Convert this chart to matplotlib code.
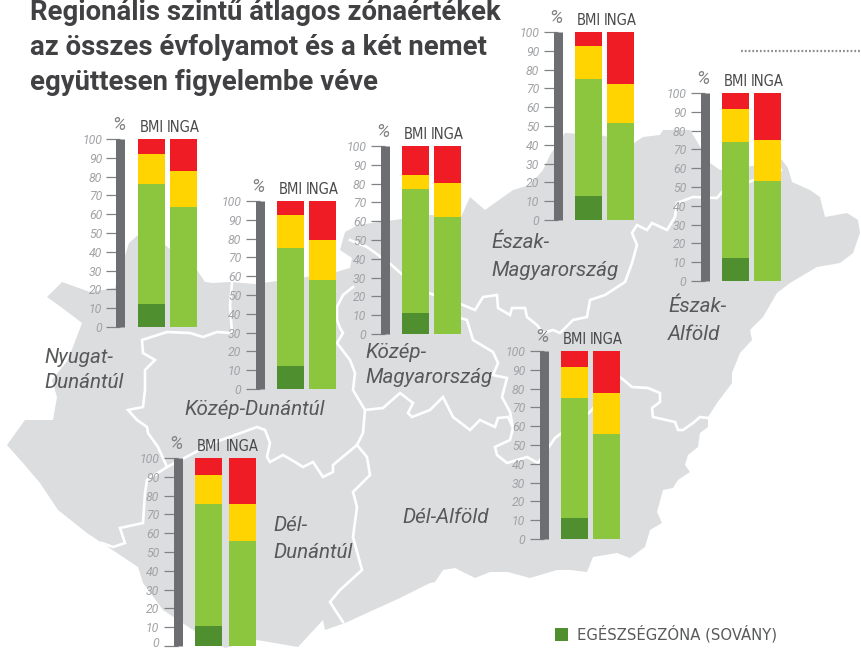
import matplotlib
matplotlib.use("Agg")
import matplotlib.pyplot as plt
from matplotlib.patches import Polygon, Rectangle
from matplotlib.transforms import ScaledTranslation

W, H = 861, 649
DPI = 100

# ---------- data ----------
regions = ["Nyugat-Dunántúl", "Közép-Dunántúl", "Közép-Magyarország", "Észak-Magyarország",
           "Észak-Alföld", "Dél-Alföld", "Dél-Dunántúl"]
# segments: dark green, green, yellow, red
bmi_dark = [12, 12, 11, 12.7, 12, 11, 10.5]
bmi_green = [64, 63, 66, 62.3, 62, 64, 65]
bmi_yellow = [16, 17.5, 7.6, 17.5, 17.5, 16.5, 15.5]
bmi_red = [8, 7.5, 15.4, 7.5, 8.5, 8.5, 9]
inga_dark = [0, 0, 0, 0, 0, 0, 0]
inga_green = [64, 58, 62, 51.6, 53, 56, 56]
inga_yellow = [19, 21, 18.5, 20.7, 22, 21.7, 19.5]
inga_red = [17, 21, 19.5, 27.7, 25, 22.3, 24.5]
group_labels = ["BMI", "INGA"]
tick_values = [0, 10, 20, 30, 40, 50, 60, 70, 80, 90, 100]
title_lines = ["Regionális szintű átlagos zónaértékek",
               "az összes évfolyamot és a két nemet",
               "együttesen figyelembe véve"]
legend_label = "EGÉSZSÉGZÓNA (SOVÁNY)"

# ---------- layout (pixels) ----------
axis_left = [116, 255, 380, 553, 700, 539, 173]
axis_bottom = [327, 389, 334, 220, 281, 539, 646]
inga_offset = [63, 63, 63, 63, 63, 63, 64.5]
region_text = [
    ("Nyugat-", 44, 363), ("Dunántúl", 44, 388),
    ("Közép-Dunántúl", 184, 415),
    ("Közép-", 365, 358), ("Magyarország", 365, 383),
    ("Észak-", 491, 248), ("Magyarország", 491, 276),
    ("Észak-", 668, 312), ("Alföld", 668, 340),
    ("Dél-Alföld", 402, 523),
    ("Dél-", 273, 531), ("Dunántúl", 273, 558),
]

# ---------- background map outline (pixels) ----------
map_outline = [
    (7, 445), (25, 420), (53, 420), (57, 397), (52, 380), (68, 360), (82, 323), (65, 310), (47, 297),
    (62, 282), (90, 292), (115, 288), (129, 243), (138, 235), (165, 245), (197, 270), (205, 282),
    (213, 283), (230, 282), (255, 284), (300, 278), (336, 272), (350, 268), (352, 258), (340, 250),
    (345, 232), (358, 225), (380, 222), (430, 215), (461, 217), (470, 197), (485, 210), (513, 190),
    (530, 185), (543, 170), (550, 155), (565, 133), (600, 135), (634, 143), (643, 137), (660, 135),
    (663, 130), (690, 130), (710, 163), (720, 170), (760, 165), (782, 160), (788, 168), (792, 182),
    (810, 190), (820, 197), (825, 217), (847, 213), (858, 220), (860, 233), (853, 253), (840, 263),
    (817, 267), (790, 283), (777, 293), (763, 317), (750, 330), (752, 340), (740, 353), (732, 373),
    (732, 383), (717, 403), (708, 417), (708, 427), (700, 433), (698, 447), (688, 455), (685, 465),
    (690, 472), (678, 480), (673, 488), (663, 490), (657, 512), (662, 523), (650, 530), (645, 547),
    (630, 558), (617, 553), (593, 557), (587, 572), (570, 570), (557, 570), (530, 578), (508, 572),
    (490, 572), (475, 578), (455, 568), (443, 570), (435, 582), (430, 583), (400, 598), (367, 613),
    (345, 623), (325, 630), (323, 620), (298, 647), (257, 640), (225, 648), (193, 630), (163, 610),
    (143, 583), (138, 567), (102, 543), (87, 533), (58, 510), (40, 483), (23, 463),
]
map_borders = [
    [(232, 283), (230, 305), (232, 333), (217, 332), (203, 337), (190, 333), (167, 332), (142, 340),
     (143, 353), (155, 360), (145, 370), (145, 390), (143, 407), (128, 410), (137, 420), (147, 427),
     (148, 433), (158, 447), (167, 467), (147, 480), (145, 493), (143, 523), (120, 528), (125, 543),
     (113, 547), (102, 543)],
    [(167, 467), (213, 443), (257, 427), (265, 430), (270, 443), (267, 457), (270, 462), (283, 455),
     (295, 462), (303, 467), (313, 462), (323, 477), (333, 472), (333, 465), (357, 445)],
    [(353, 287), (343, 295), (337, 307), (337, 320), (340, 328), (343, 333), (337, 343), (350, 360),
     (355, 373), (353, 390), (365, 410), (363, 433), (357, 445)],
    [(357, 445), (367, 457), (370, 475), (353, 492), (357, 507), (353, 537), (362, 570), (340, 590),
     (330, 602), (343, 622)],
    [(365, 410), (383, 408), (400, 393), (413, 403), (408, 413), (412, 417), (430, 410), (443, 397),
     (453, 417), (470, 430), (480, 420), (495, 427), (498, 418), (508, 417), (513, 428), (510, 440),
     (495, 447), (497, 455), (507, 463), (527, 457), (538, 463), (555, 438), (590, 412), (620, 377),
     (632, 387), (648, 388), (660, 393), (660, 402), (652, 408), (653, 417), (675, 422), (678, 430),
     (683, 430), (693, 423), (700, 417), (708, 418)],
    [(388, 262), (367, 247), (350, 240)],
    [(388, 262), (420, 290), (463, 305), (475, 310), (483, 297), (497, 295), (498, 308), (510, 315),
     (512, 308), (525, 308), (527, 317), (537, 325), (543, 333), (553, 330), (560, 333), (573, 320),
     (587, 317), (590, 300), (605, 295), (625, 282), (632, 263), (637, 245), (632, 233), (637, 225),
     (647, 230), (652, 223), (667, 230), (675, 217), (677, 203), (693, 197), (717, 198), (722, 192),
     (781, 170)],
    [(440, 312), (467, 320), (473, 340), (493, 352), (498, 363), (493, 375), (507, 378), (502, 397),
     (510, 412), (513, 428)],
]

# ---------- colours ----------
C_MAP = "#dcddde"
C_DARK = "#4f8f2f"
C_GREEN = "#8cc63f"
C_YELLOW = "#ffd400"
C_RED = "#ef1c25"
C_AXIS = "#6d6e71"
C_TICK = "#a0a2a5"
C_TEXT = "#4a4a4c"

fig = plt.figure(figsize=(W / DPI, H / DPI), dpi=DPI, facecolor="white")
bg = fig.add_axes([0, 0, 1, 1], zorder=0)
bg.set_xlim(0, W)
bg.set_ylim(H, 0)
bg.axis("off")
bg.add_patch(Polygon(map_outline, closed=True, facecolor=C_MAP, edgecolor="none"))
for line in map_borders:
    bg.plot(*zip(*line), color="white", lw=1.9, solid_joinstyle="miter", zorder=2)

# title
for s, y in zip(title_lines, [20.5, 55, 90]):
    bg.text(30, y, s, fontsize=19.8, fontweight="bold", family="Roboto", color="#414042", va="baseline", ha="left")

# dotted rule
bg.plot([741, 861], [51, 51], color="#8a8c8e", lw=1.6, ls=(0, (0.8, 0.9)))

# legend
bg.add_patch(Rectangle((555, 628), 13, 13, facecolor=C_DARK, edgecolor="none"))
bg.text(577, 639.5, legend_label, fontsize=10.7, family="DejaVu Sans", color="#58595b", va="baseline", ha="left")

# region names
for s, x, y in region_text:
    bg.text(x, y, s, fontsize=14.9, family="Roboto", style="italic",
            color="#58595b", va="baseline", ha="left", zorder=5)

# panels
PLOT_H = 188
BAR_W = 27
for i in range(len(regions)):
    centre = axis_left[i] + 4.5
    ax = fig.add_axes([centre / W, 1 - axis_bottom[i] / H, 80 / W, PLOT_H / H], zorder=3)
    ax.patch.set_alpha(0)
    ax.set_xlim(0, 80)
    ax.set_ylim(0, 100)
    for side in ("top", "right", "bottom"):
        ax.spines[side].set_visible(False)
    ax.spines["left"].set_linewidth(9 * 72 / DPI)
    ax.spines["left"].set_color(C_AXIS)
    ax.spines["left"].set_capstyle("butt")
    ax.spines["left"].set_zorder(4)
    ax.set_xticks([])
    ax.set_yticks(tick_values)
    ax.set_yticklabels([str(t) for t in tick_values], fontsize=8.8, family="Roboto", style="italic",
                       color=C_TICK)
    ax.tick_params(axis="y", length=13.5 * 72 / DPI, width=0.9, color="#808285", pad=3.5)
    if axis_bottom[i] > H - 6:
        lab0 = ax.get_yticklabels()[0]
        lab0.set_transform(lab0.get_transform() + ScaledTranslation(0, 3 / 72, fig.dpi_scale_trans))

    xs = [31, inga_offset[i]]
    series = [(bmi_dark, inga_dark, C_DARK), (bmi_green, inga_green, C_GREEN),
              (bmi_yellow, inga_yellow, C_YELLOW), (bmi_red, inga_red, C_RED)]
    base = [0.0, 0.0]
    for a, b, c in series:
        vals = [a[i], b[i]]
        ax.bar(xs, vals, width=BAR_W, bottom=base, color=c, linewidth=0, clip_on=False, zorder=3)
        base = [base[0] + vals[0], base[1] + vals[1]]

    for x, lab in zip(xs, group_labels):
        ax.annotate(lab, (x, 100), xytext=(0, 5), textcoords="offset points", ha="center", va="baseline",
                    fontsize=10.6, family="DejaVu Sans", stretch="condensed", color=C_TEXT,
                    annotation_clip=False)
    ax.annotate("%", (0, 100), xytext=(-1, 3.5), textcoords="offset points", ha="center", va="bottom",
                fontsize=13.5, family="Roboto", style="italic", color="#808285",
                annotation_clip=False)

fig.savefig("out.png", dpi=DPI, facecolor="white")
